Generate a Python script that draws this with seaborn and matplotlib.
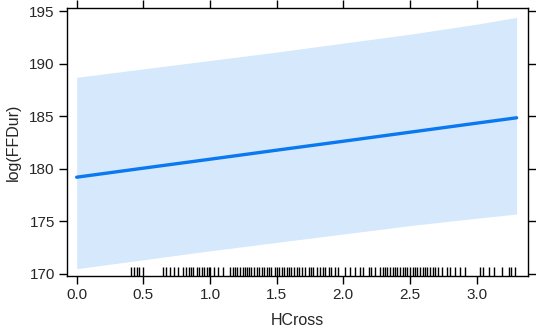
import numpy as np
import pandas as pd
import seaborn as sns
import matplotlib.pyplot as plt

# effect of HCross on log(FFDur)
hcross = [0.0, 0.5, 1.0, 1.5, 2.0, 2.5, 3.0, 3.3]
fit = [179.2, 180.06, 180.91, 181.77, 182.62, 183.48, 184.34, 184.85]
upper = [188.7, 189.5, 190.3, 191.1, 191.95, 192.8, 193.75, 194.4]
lower = [170.5, 171.35, 172.2, 173.0, 173.8, 174.6, 175.3, 175.7]

# observed HCross values (rug)
rug_vals = [0.41, 0.43, 0.45, 0.47, 0.50, 0.645, 0.67, 0.70, 0.73, 0.76, 0.80, 0.82,
            0.84, 0.855, 0.875, 0.90, 0.92, 0.94, 0.955, 0.975, 0.99, 1.0, 1.03, 1.06,
            1.10, 1.15, 1.17, 1.19, 1.205, 1.225, 1.245, 1.26, 1.28, 1.295, 1.31, 1.33,
            1.35, 1.37, 1.39, 1.405, 1.425, 1.445, 1.46, 1.49, 1.50, 1.52, 1.54, 1.555,
            1.575, 1.595, 1.61, 1.63, 1.65, 1.67, 1.69, 1.71, 1.74, 1.755, 1.775, 1.80,
            1.825, 1.845, 1.86, 1.89, 1.91, 1.94, 1.96, 2.01, 2.05, 2.09, 2.125, 2.15,
            2.19, 2.21, 2.24, 2.275, 2.295, 2.31, 2.33, 2.35, 2.37, 2.39, 2.405, 2.425,
            2.445, 2.46, 2.48, 2.50, 2.52, 2.54, 2.555, 2.575, 2.595, 2.61, 2.63, 2.65,
            2.67, 2.69, 2.71, 2.74, 2.775, 2.80, 2.84, 2.875, 2.91, 3.025, 3.05, 3.09,
            3.13, 3.19, 3.24, 3.26, 3.29]

xticks = [0.0, 0.5, 1.0, 1.5, 2.0, 2.5, 3.0]
yticks = [170, 175, 180, 185, 190, 195]

df = pd.DataFrame({"HCross": hcross, "fit": fit, "lower": lower, "upper": upper})

sns.set_theme(style="ticks")
plt.rcParams['font.family'] = ['Liberation Sans', 'DejaVu Sans']

fig = plt.figure(figsize=(5.36, 3.33), dpi=100)
ax = fig.add_axes([0.1244, 0.171, 0.8613, 0.804])

ax.fill_between(df["HCross"], df["lower"], df["upper"], color="#d6e8fb", lw=0)
sns.lineplot(data=df, x="HCross", y="fit", ax=ax, color="#0a78f0", lw=2.4)
sns.rugplot(x=rug_vals, ax=ax, height=0.035, color="black", lw=1.2, clip_on=False)

ax.set_xlim(-0.075, 3.388)
ax.set_ylim(169.8, 195.26)
ax.set_xticks(xticks)
ax.set_xticklabels([f"{t:.1f}" for t in xticks])
ax.set_yticks(yticks)

for s in ax.spines.values():
    s.set_visible(True)
    s.set_linewidth(1.0)
    s.set_color("black")
ax.tick_params(axis="both", direction="out", length=5.5, width=1.0, color="black",
               labelsize=11, top=True, right=True, labeltop=False, labelright=False, pad=3)

ax.set_xlabel("HCross", fontsize=11.5, labelpad=8)
ax.set_ylabel("log(FFDur)", fontsize=11.5, labelpad=6)

fig.savefig("out.png", dpi=100)
